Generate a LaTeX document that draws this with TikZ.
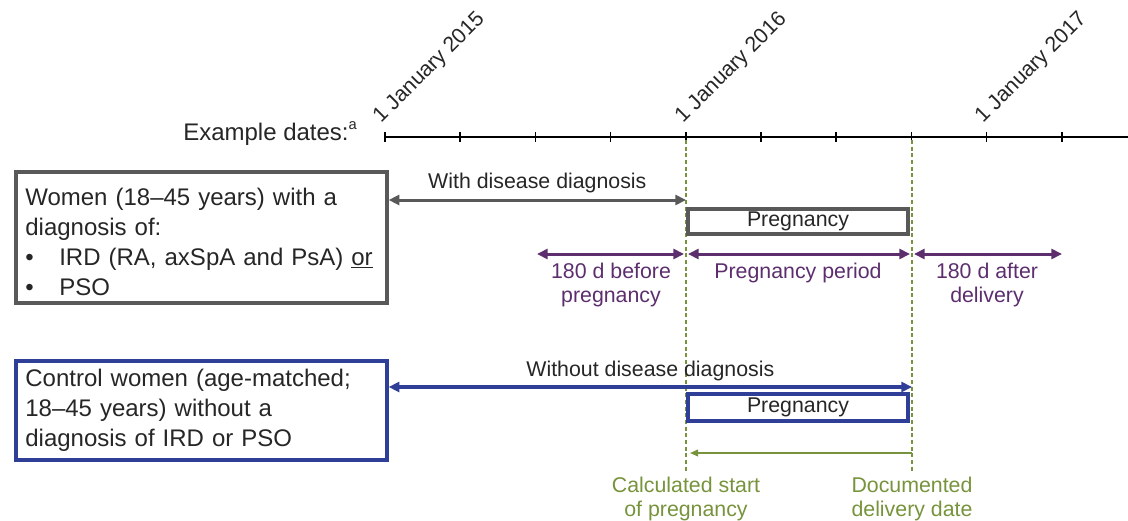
\documentclass[tikz,border=0pt]{standalone}
\usepackage{fontspec}
\setmainfont{Liberation Sans}
\usepackage{tikz}
\usetikzlibrary{%
  positioning
 ,arrows.meta
 ,calc
}
\definecolor{boxgray}{HTML}{595959}
\definecolor{ctrlblue}{HTML}{2F3E96}
\definecolor{perpurple}{HTML}{5C2E6E}
\definecolor{dategreen}{HTML}{77933C}
\definecolor{txt}{HTML}{262626}

\tikzstyle{tl}=[x=0.75pt,y=-0.75pt,font=\fontsize{16}{18}\selectfont,text=txt]
\tikzstyle{big}=[font=\fontsize{18}{22.5}\selectfont]
\tikzstyle{grp}=[draw,line width=3pt,big,align=left,inner xsep=7pt,text width=264pt]
\tikzstyle{preg}=[draw,line width=3pt,minimum width=165pt,inner sep=0pt]
\tikzstyle{date}=[rotate=45,anchor=base west,inner sep=0pt]
\tikzstyle{lbl}=[anchor=base,inner sep=0pt,align=center]
\tikzstyle{guide}=[dategreen,line width=0.8pt,dash pattern=on 3pt off 2pt]
\tikzstyle{dbl}=[{Triangle[length=8pt,width=7.5pt]}-{Triangle[length=8pt,width=7.5pt]}]

\begin{document}
\begin{tikzpicture}[tl]
  \useasboundingbox (0,0) rectangle (1128,521);

  % time axis
  \node[big,anchor=base west,inner sep=0pt] (exdates) at (183,140) {Example dates:\raisebox{0.45em}{\fontsize{11}{11}\selectfont a}};
  \draw[line width=1.5pt] (385,137) coordinate (t0) -- (1128,137) coordinate (tend);
  \foreach \i in {0,...,9}
    \draw[line width=1.1pt] ($(t0)+(75.2*\i,-5)$) -- ++(0,10);
  \node[date] (jan15) at (381,124) {1 January 2015};
  \node[date] (jan16) at (683,124) {1 January 2016};
  \node[date] (jan17) at (983,124) {1 January 2017};

  % guides
  \coordinate (start) at (686,140);
  \coordinate (deliv) at (912,140);
  \coordinate (startlow) at (686,472);
  \coordinate (delivlow) at (912,472);
  \draw[guide] (start) -- (startlow);
  \draw[guide] (deliv) -- (delivlow);

  % women with a diagnosis
  \node[grp,boxgray,text=txt,minimum height=98pt,anchor=north west] (women) at (14,170)
    {\rule{0pt}{20pt}Women (18–45 years) with a\\diagnosis of:\\
     \makebox[25.5pt][l]{•}IRD (RA, axSpA and PsA) \underline{or}\\
     \makebox[25.5pt][l]{•}PSO};
  \draw[dbl,boxgray,line width=2.25pt] (women.east |- 0,200) -- (start |- 0,200)
    node[lbl,midway,above=4pt,text=txt] (withlbl) {With disease diagnosis};
  \node[preg,boxgray,minimum height=18.75pt] (preg1) at (798,221.5) {\textcolor{txt}{Pregnancy}};

  % periods
  \coordinate (pre180) at (537,254);
  \coordinate (post180) at (1062,254);
  \draw[dbl,perpurple,line width=2.25pt,shorten >=1.5pt] (pre180) -- (start |- pre180);
  \draw[dbl,perpurple,line width=2.25pt,shorten <=1.5pt,shorten >=1.5pt] (start |- pre180) -- (deliv |- pre180);
  \draw[dbl,perpurple,line width=2.25pt,shorten <=1.5pt] (deliv |- post180) -- (post180);
  \node[lbl,text=perpurple] (beflbl) at (611,302) {180 d before\\pregnancy};
  \node[lbl,text=perpurple] (perlbl) at (798,278) {Pregnancy period};
  \node[lbl,text=perpurple] (aftlbl) at (987,302) {180 d after\\delivery};

  % control women
  \node[grp,ctrlblue,text=txt,minimum height=74.25pt,anchor=north west] (control) at (14,359)
    {Control women (age-matched;\\18–45 years) without a\\diagnosis of IRD or PSO};
  \draw[dbl,ctrlblue,line width=3pt] (control.east |- 0,387) -- (deliv |- 0,387)
    node[lbl,midway,above=3pt,text=txt] (withoutlbl) {Without disease diagnosis};
  \node[preg,ctrlblue,minimum height=20.25pt] (preg2) at (798,407.5) {\textcolor{txt}{Pregnancy}};

  % dating of pregnancy
  \draw[-{Triangle[length=6pt,width=5pt]},dategreen,line width=1.1pt,shorten >=3pt] (deliv |- 0,453) -- (start |- 0,453);
  \node[lbl,text=dategreen] (calclbl) at (686,516) {Calculated start\\of pregnancy};
  \node[lbl,text=dategreen] (doclbl) at (912,516) {Documented\\delivery date};
\end{tikzpicture}
\end{document}
